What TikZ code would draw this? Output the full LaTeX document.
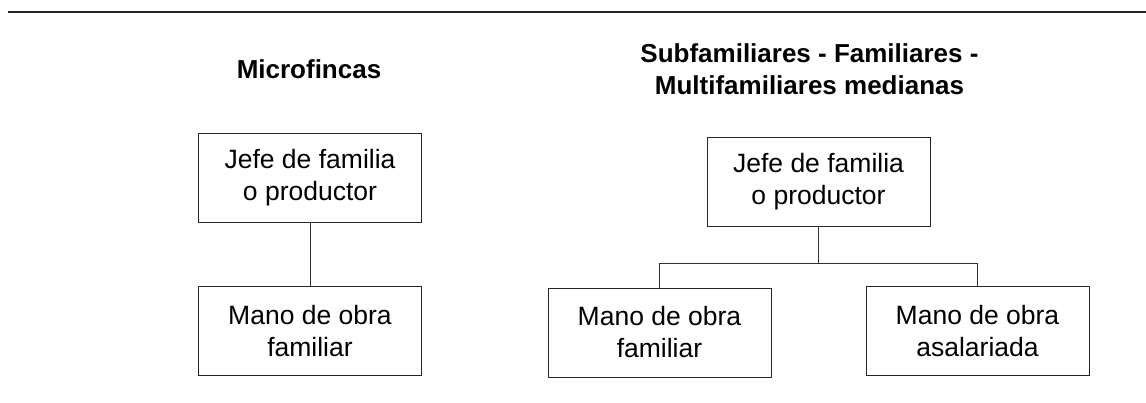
\documentclass[tikz,border=0pt]{standalone}
\usepackage{fontspec}
\setmainfont{Liberation Sans}
\begin{document}
\begin{tikzpicture}[x=1pt,y=-1pt,
  orgbox/.style={draw=black!85, line width=0.9pt, minimum width=223pt, minimum height=89pt,
    align=center, inner sep=0pt, font=\fontsize{26.5}{32}\selectfont},
  title/.style={align=center, inner sep=0pt, font=\bfseries\fontsize{26}{32}\selectfont},
  link/.style={draw=black!80, line width=0.9pt}]
\useasboundingbox (0,0) rectangle (1146,402);
\coordinate (rl0) at (8,12);
\coordinate (rl1) at (1146,12);
\draw[line width=1.4pt, black!85] (rl0) -- (rl1);

% Left
\node[title, anchor=base] (t1) at (309,78) {Microfincas};
\node[orgbox] (a1) at (310,178) {Jefe de familia\\o productor};
\node[orgbox] (a2) at (310,331) {Mano de obra\\familiar};
\draw[link] (a1.south) -- (a2.north);

% Right
\node[title] (t2) at (809.5,69.5) {Subfamiliares - Familiares -\\Multifamiliares medianas};
\node[orgbox] (b1) at (818.5,181.5) {Jefe de familia\\o productor};
\node[orgbox] (b2) at (659.5,332.5) {Mano de obra\\familiar};
\node[orgbox] (b3) at (977.5,331) {Mano de obra\\asalariada};
\coordinate (bar) at (818.5,263.5);
\draw[link] (b1.south) -- (bar);
\draw[link] (b2.north) |- (bar) -| (b3.north);
\end{tikzpicture}
\end{document}
